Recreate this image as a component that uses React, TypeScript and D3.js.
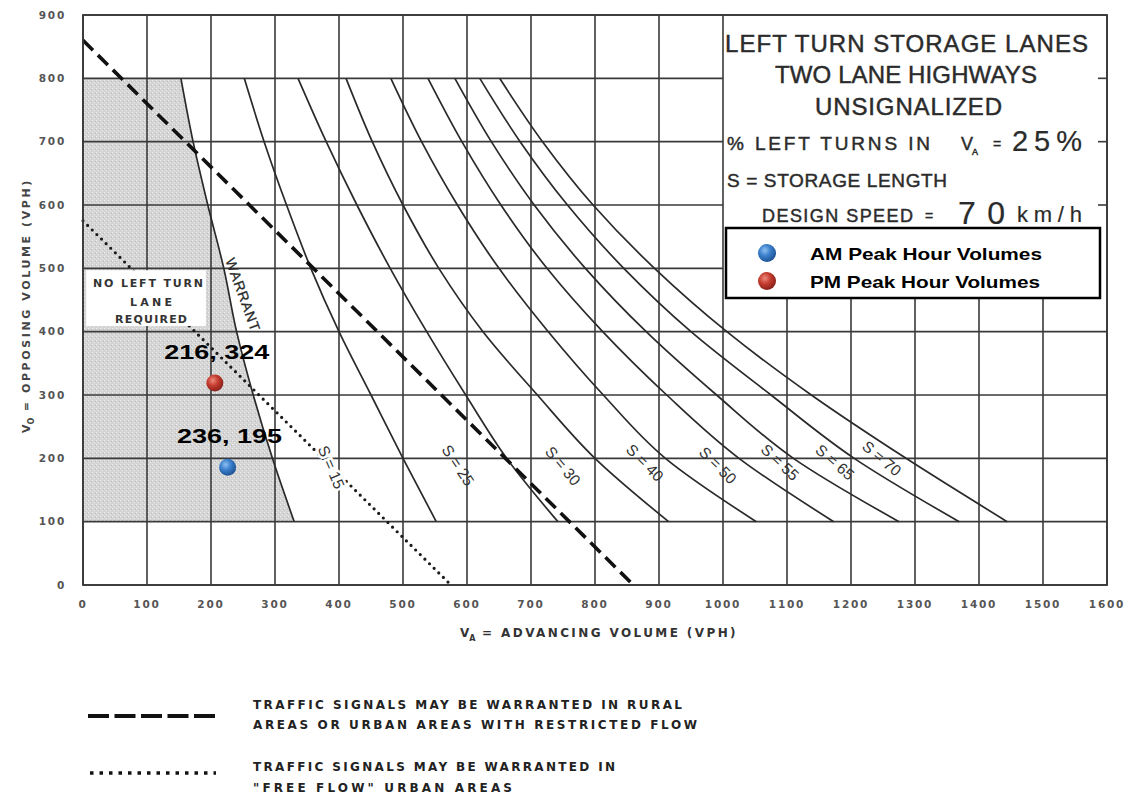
import React from "react";
import * as d3 from "d3";

const W = 1129;
const H = 800;

// ---------- data ----------
const xTickValues = [0, 100, 200, 300, 400, 500, 600, 700, 800, 900, 1000, 1100, 1200, 1300, 1400, 1500, 1600];
const yTickValues = [0, 100, 200, 300, 400, 500, 600, 700, 800, 900];

// opposing-volume levels at which each curve's advancing volume was read
const curveLevels = [800, 700, 600, 500, 400, 300, 200, 100];
const warrantVA = [153, 172, 195, 220, 240, 266, 296, 330];
const s15VA = [252, 283, 318, 356, 400, 450, 500, 552];
const s25VA = [336, 380, 428, 480, 537, 598, 662, 742];
const s30VA = [411, 452, 500, 556, 625, 710, 800, 915];
const s40VA = [481, 529, 585, 650, 727, 813, 910, 1052];
const s50VA = [539, 592, 653, 725, 812, 912, 1025, 1173];
const s55VA = [581, 638, 705, 785, 880, 990, 1110, 1275];
const s65VA = [620, 683, 757, 845, 950, 1075, 1205, 1369];
const s70VA = [651, 718, 797, 893, 1006, 1138, 1286, 1444];

const storageNames = ["S = 15", "S = 25", "S = 30", "S = 40", "S = 50", "S = 55", "S = 65", "S = 70"];
const storageCurves = [s15VA, s25VA, s30VA, s40VA, s50VA, s55VA, s65VA, s70VA];
const storageLabelVA = [388, 586, 750, 878, 992, 1089, 1175, 1248];
const storageLabelVO = [186, 189, 188, 193, 189, 194, 194, 200];
const storageLabelAngle = [67, 56, 50, 45, 45, 43, 41, 40];

// signal warrant lines (VA, VO end points)
const ruralSignalLine: [number, number][] = [[0, 860], [860, 0]];
const urbanSignalLine: [number, number][] = [[0, 575], [575, 0]];

// peak hour points
const peakNames = ["AM Peak Hour Volumes", "PM Peak Hour Volumes"];
const peakVA = [226, 206];
const peakVO = [186, 319];
const peakLabels = ["236, 195", "216, 324"];
const peakColors = ["blue", "red"];

// ---------- scales ----------
const x = d3.scaleLinear().domain([0, 1600]).range([83, 1107]);
const y = d3.scaleLinear().domain([0, 900]).range([585, 15]);

const curveLine = d3
  .line<[number, number]>()
  .x((d) => x(d[0]))
  .y((d) => y(d[1]))
  .curve(d3.curveMonotoneY);

const straight = d3
  .line<[number, number]>()
  .x((d) => x(d[0]))
  .y((d) => y(d[1]));

const toPts = (vals: number[]): [number, number][] => vals.map((v, i) => [v, curveLevels[i]]);

const shadeArea = d3
  .area<[number, number]>()
  .y((d) => y(d[1]))
  .x0(() => x(0))
  .x1((d) => x(d[0]))
  .curve(d3.curveMonotoneY);

const GRID = "#3a3a3a";
const INK = "#2a2a2a";
const SANS = "'Liberation Sans', Arial, sans-serif";
const DRAFT = "'DejaVu Sans', 'Liberation Sans', sans-serif";

export default function App() {
  const legendBottom = 298;
  const titleLeft = x(1000);
  const titleRight = x(1600);

  return (
    <svg
      width={W}
      height={H}
      viewBox={`0 0 ${W} ${H}`}
      style={{ position: "absolute", left: 0, top: 0, background: "#fff" }}
    >
      <defs>
        <pattern id="speckle" width="4" height="4" patternUnits="userSpaceOnUse">
          <rect width="4" height="4" fill="#d4d4d4" />
          <rect x="0" y="0" width="1" height="1" fill="#f0f0f0" />
          <rect x="2" y="2" width="1" height="1" fill="#e8e8e8" />
          <rect x="3" y="1" width="1" height="1" fill="#bdbdbd" />
        </pattern>
        <radialGradient id="blue" cx="38%" cy="35%" r="70%">
          <stop offset="0%" stopColor="#8ec0f0" />
          <stop offset="45%" stopColor="#3b7fcc" />
          <stop offset="100%" stopColor="#1c4f8e" />
        </radialGradient>
        <radialGradient id="red" cx="38%" cy="35%" r="70%">
          <stop offset="0%" stopColor="#ee8a7c" />
          <stop offset="45%" stopColor="#c53d30" />
          <stop offset="100%" stopColor="#821d16" />
        </radialGradient>
      </defs>

      <rect x={0} y={0} width={W} height={H} fill="#fff" />

      {/* shaded "no left turn lane required" zone */}
      <path d={shadeArea(toPts(warrantVA)) || ""} fill="url(#speckle)" />

      {/* grid */}
      <g stroke={GRID} strokeWidth={1.6}>
        {xTickValues.map((v) => {
          const partial = v > 1000 && v < 1600;
          return (
            <line
              key={"vx" + v}
              x1={x(v)}
              x2={x(v)}
              y1={y(0)}
              y2={partial ? legendBottom : y(900)}
            />
          );
        })}
        {yTickValues.map((v) => {
          const partial = v >= 500 && v <= 800;
          return <line key={"hy" + v} x1={x(0)} x2={partial ? titleLeft : x(1600)} y1={y(v)} y2={y(v)} />;
        })}
        {[800, 700, 600].map((v) => (
          <line key={"stub" + v} x1={titleRight - 9} x2={titleRight} y1={y(v)} y2={y(v)} />
        ))}
      </g>

      {/* dotted: free flow urban */}
      <path
        d={straight(urbanSignalLine) || ""}
        fill="none"
        stroke="#1a1a1a"
        strokeWidth={3.2}
        strokeDasharray="0 6.5"
        strokeLinecap="round"
      />

      {/* NO LEFT TURN box */}
      <rect x={x(5)} y={y(497)} width={x(192) - x(5)} height={y(409) - y(497)} fill="#fff" />
      <g fontFamily={DRAFT} fontWeight="bold" fontSize={11} fill="#333" textAnchor="middle">
        <text x={148} y={287} textLength={110} lengthAdjust="spacing">NO LEFT TURN</text>
        <text x={151} y={306} textLength={42} lengthAdjust="spacing">LANE</text>
        <text x={151} y={323} textLength={72} lengthAdjust="spacing">REQUIRED</text>
      </g>

      {/* warrant and storage curves */}
      <g fill="none" stroke={INK} strokeWidth={1.7}>
        <path d={curveLine(toPts(warrantVA)) || ""} />
        {storageCurves.map((c, i) => (
          <path key={"s" + i} d={curveLine(toPts(c)) || ""} />
        ))}
      </g>

      {/* dashed: rural / restricted flow */}
      <path
        d={straight(ruralSignalLine) || ""}
        fill="none"
        stroke="#111"
        strokeWidth={3.6}
        strokeDasharray="14 7"
      />

      {/* labels on curves */}
      <text
        transform={`translate(${x(250)},${y(458)}) rotate(70)`}
        textAnchor="middle"
        dy="0.35em"
        fontFamily={SANS}
        fontSize={14}
        fill="#2a2a2a"
        stroke="#2a2a2a"
        strokeWidth={0.3}
        letterSpacing={1}
      >
        WARRANT
      </text>
      {storageNames.map((n, i) => (
        <text
          key={n}
          transform={`translate(${x(storageLabelVA[i])},${y(storageLabelVO[i])}) rotate(${storageLabelAngle[i]})`}
          textAnchor="middle"
          dy="0.35em"
          fontFamily={SANS}
          fontSize={15.5}
          fill="#333"
          stroke={i === 0 ? "#fff" : "none"}
          strokeWidth={i === 0 ? 5 : 0}
          paintOrder="stroke"
        >
          {n}
        </text>
      ))}

      {/* plot border */}
      <rect x={x(0)} y={y(900)} width={x(1600) - x(0)} height={y(0) - y(900)} fill="none" stroke={GRID} strokeWidth={1.8} />

      {/* axis tick labels */}
      <g fontFamily={DRAFT} fontWeight="bold" fontSize={10.5} fill="#555" letterSpacing={1.8}>
        {xTickValues.map((v) => (
          <text key={"xt" + v} x={x(v)} y={608} textAnchor="middle">
            {v}
          </text>
        ))}
        {yTickValues.map((v) => (
          <text key={"yt" + v} x={66} y={y(v)} dy="0.35em" textAnchor="end">
            {v}
          </text>
        ))}
      </g>

      {/* axis titles */}
      <text x={460} y={637} fontFamily={DRAFT} fontWeight="bold" fontSize={12} fill="#333">
        <tspan>V</tspan>
        <tspan fontSize={8} dy={4}>A</tspan>
        <tspan dy={-4} letterSpacing={2.4}> = ADVANCING VOLUME (VPH)</tspan>
      </text>
      <text
        transform="translate(30,433) rotate(-90)"
        fontFamily={DRAFT}
        fontWeight="bold"
        fontSize={11}
        fill="#444"
      >
        <tspan>V</tspan>
        <tspan fontSize={8} dy={4}>O</tspan>
        <tspan dy={-4} letterSpacing={2.6}> = OPPOSING VOLUME (VPH)</tspan>
      </text>

      {/* title block */}
      <g fontFamily={SANS} fill="#2b2b2b" stroke="#2b2b2b" strokeWidth={0.45}>
        <text x={725} y={52} fontSize={24} textLength={363} lengthAdjust="spacing">LEFT TURN STORAGE LANES</text>
        <text x={775} y={83} fontSize={24} textLength={262} lengthAdjust="spacing">TWO LANE HIGHWAYS</text>
        <text x={815} y={115} fontSize={24} textLength={187} lengthAdjust="spacing">UNSIGNALIZED</text>
        <text x={727} y={150} fontSize={19} textLength={203} lengthAdjust="spacing">% LEFT TURNS IN</text>
        <text x={961} y={150} fontSize={18}>V</text>
        <text x={972} y={155} fontSize={9}>A</text>
        <text x={993} y={149} fontSize={14}>=</text>
        <text x={1012} y={151} fontSize={29} textLength={70} lengthAdjust="spacing" strokeWidth={0.2}>25%</text>
        <text x={727} y={187} fontSize={19} textLength={220} lengthAdjust="spacing">S = STORAGE LENGTH</text>
        <text x={762} y={222} fontSize={18} textLength={151} lengthAdjust="spacing">DESIGN SPEED</text>
        <text x={925} y={221} fontSize={14}>=</text>
        <text x={958} y={224} fontSize={32} textLength={47} lengthAdjust="spacing" strokeWidth={0.2}>70</text>
        <text x={1017} y={222} fontSize={22} textLength={65} lengthAdjust="spacing" strokeWidth={0.2}>km/h</text>
      </g>

      {/* legend box */}
      <rect x={726} y={228} width={374} height={70} fill="#fff" stroke="#000" strokeWidth={2.5} />
      {peakNames.map((n, i) => (
        <g key={n}>
          <circle cx={767} cy={253 + i * 28} r={9} fill={`url(#${peakColors[i]})`} />
          <text
            x={810}
            y={260 + i * 28}
            fontFamily={SANS}
            fontWeight="bold"
            fontSize={17}
            fill="#000"
            textLength={i === 0 ? 232 : 230}
            lengthAdjust="spacingAndGlyphs"
          >
            {n}
          </text>
        </g>
      ))}

      {/* peak hour points */}
      {peakVA.map((v, i) => (
        <g key={"pt" + i}>
          <circle cx={x(v)} cy={y(peakVO[i])} r={8.5} fill={`url(#${peakColors[i]})`} />
          <text
            x={x(v) + 2}
            y={y(peakVO[i]) - 24}
            textAnchor="middle"
            fontFamily={SANS}
            fontWeight="bold"
            fontSize={21}
            fill="#000"
            textLength={105}
            lengthAdjust="spacingAndGlyphs"
          >
            {peakLabels[i]}
          </text>
        </g>
      ))}

      {/* bottom legend */}
      <line x1={88} x2={215} y1={716} y2={716} stroke="#111" strokeWidth={4} strokeDasharray="21 5.5" />
      <line x1={90} x2={216} y1={773} y2={773} stroke="#111" strokeWidth={3.5} strokeDasharray="3.5 6" />
      <g fontFamily={DRAFT} fontWeight="bold" fontSize={12} fill="#222">
        <text x={253} y={709} textLength={429} lengthAdjust="spacing">TRAFFIC SIGNALS MAY BE WARRANTED IN RURAL</text>
        <text x={253} y={729} textLength={444} lengthAdjust="spacing">AREAS OR URBAN AREAS WITH RESTRICTED FLOW</text>
        <text x={253} y={771} textLength={362} lengthAdjust="spacing">TRAFFIC SIGNALS MAY BE WARRANTED IN</text>
        <text x={253} y={792} textLength={259} lengthAdjust="spacing">"FREE FLOW" URBAN AREAS</text>
      </g>
    </svg>
  );
}
